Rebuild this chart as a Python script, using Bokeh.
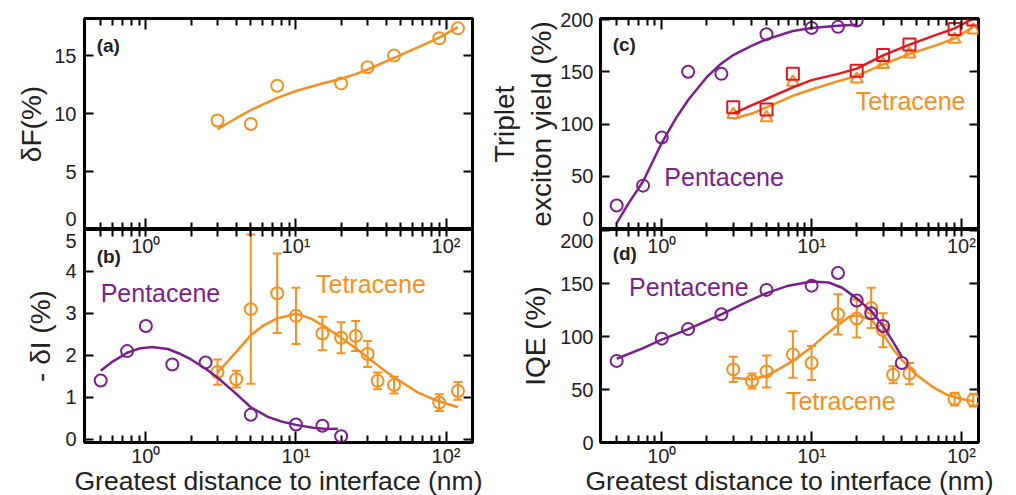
from bokeh.plotting import figure
from bokeh.models import (Range1d, LogAxis, LinearAxis, FixedTicker, CustomJSTickFormatter,
                          ColumnDataSource, Whisker, TeeHead, Label)
from bokeh.layouts import row, column
from bokeh.embed import file_html
from bokeh.resources import INLINE

PURPLE = "#7d1e8e"
ORANGE = "#f39020"
RED = "#e5161e"
FONT = "Liberation Sans"
INK = "#222222"

# ---------------- data ----------------
# (a) tetracene delta_F
a_x = [3, 5, 7.5, 20, 30, 45, 90, 120]
a_y = [9.4, 9.1, 12.4, 12.6, 14.0, 15.0, 16.5, 17.35]
a_fit_x = [3, 4, 5, 7.5, 10, 15, 20, 25, 30, 45, 70, 90, 120]
a_fit_y = [8.65, 9.6, 10.3, 11.35, 11.95, 12.6, 13.0, 13.4, 13.8, 14.8, 15.9, 16.55, 17.45]

# (b) -delta_I
b_pen_x = [0.5, 0.75, 1, 1.5, 2.5, 5, 10, 15, 20]
b_pen_y = [1.40, 2.10, 2.70, 1.78, 1.83, 0.58, 0.35, 0.32, 0.07]
b_pen_fit_x = [0.5, 0.6, 0.75, 0.9, 1.1, 1.4, 1.7, 2.0, 2.5, 3.0, 4.0, 5.0, 6.5, 8.0, 10, 13, 16, 19]
b_pen_fit_y = [1.63, 1.85, 2.06, 2.16, 2.20, 2.15, 2.03, 1.90, 1.68, 1.47, 1.08, 0.76, 0.53, 0.42, 0.34, 0.27, 0.24, 0.25]
b_tet_x = [3, 4, 5, 7.5, 10, 15, 20, 25, 30, 35, 45, 90, 120]
b_tet_y = [1.60, 1.43, 3.10, 3.48, 2.94, 2.52, 2.42, 2.46, 2.03, 1.39, 1.29, 0.87, 1.15]
b_tet_err = [0.30, 0.20, 1.78, 0.95, 0.67, 0.40, 0.37, 0.36, 0.31, 0.20, 0.20, 0.20, 0.21]
b_tet_fit_x = [3, 3.5, 4, 5, 6, 7.5, 10, 12.5, 15, 20, 25, 30, 40, 50, 65, 80, 100, 120]
b_tet_fit_y = [1.59, 1.85, 2.08, 2.48, 2.70, 2.88, 2.99, 2.88, 2.72, 2.42, 2.17, 1.95, 1.60, 1.37, 1.11, 0.97, 0.85, 0.76]

# (c) triplet exciton yield
c_pen_x = [0.5, 0.75, 1, 1.5, 2.5, 5, 10, 15, 20]
c_pen_y = [22, 41, 87, 150, 148, 186, 192, 193, 199]
c_pen_fit_x = [0.5, 0.6, 0.75, 1.0, 1.25, 1.5, 2.0, 2.5, 3.0, 4.0, 5.0, 7.5, 10, 15, 20]
c_pen_fit_y = [5, 24, 45, 82, 106, 123, 145, 158, 166, 175, 181, 189, 192, 194, 195]
c_tet_x = [3, 5, 7.5, 20, 30, 45, 90, 120]
c_tet_sq_y = [116, 114, 148, 151, 166, 176, 191, 200]
c_tet_tri_y = [109, 106, 140, 143, 157, 167, 181, 190]
c_sq_fit_x = [3, 4, 5, 7.5, 10, 15, 20, 30, 45, 70, 90, 120]
c_sq_fit_y = [110, 118, 124, 135, 142, 148, 153, 165.7, 176, 186, 191.5, 201]
c_tri_fit_x = [3, 4, 5, 7.5, 10, 15, 20, 30, 45, 70, 90, 120]
c_tri_fit_y = [105, 110, 116, 127, 133, 141, 146, 157, 167, 176, 182, 193]

# (d) IQE
d_pen_x = [0.5, 1, 1.5, 2.5, 5, 10, 15, 20, 25, 30, 40]
d_pen_y = [77, 98, 107, 121, 144, 148, 160, 134, 122, 110, 75]
d_pen_fit_x = [0.5, 0.75, 1, 1.5, 2.5, 3.5, 5, 7, 10, 13, 16, 20, 25, 30, 35, 40]
d_pen_fit_y = [79, 89, 97, 107, 121, 131, 141, 148, 152, 151, 146, 136, 124, 110, 95, 81]
d_tet_x = [3, 4, 5, 7.5, 10, 15, 20, 25, 30, 35, 45, 90, 120]
d_tet_y = [69, 58, 67, 83, 75, 121, 117, 127, 106, 64, 65, 41, 40]
d_tet_err = [12, 7, 15, 22, 16, 19, 18, 19, 16, 8, 10, 6, 6]
d_tet_fit_x = [3, 4, 5, 6, 7.5, 10, 12.5, 15, 18, 20, 25, 30, 35, 40, 50, 65, 80, 100, 120]
d_tet_fit_y = [61, 59.5, 63, 69, 77, 90, 102, 111, 119, 120, 116, 102, 88, 78, 64, 52, 45, 41, 39]

# ticks
x_major = [1, 10, 100]
x_minor = [0.5, 0.6, 0.7, 0.8, 0.9, 2, 3, 4, 5, 6, 7, 8, 9, 20, 30, 40, 50, 60, 70, 80, 90]
a_yticks = [0, 5, 10, 15]
b_yticks = [0, 1, 2, 3, 4, 5]
cd_yticks = [0, 50, 100, 150, 200]

XLABEL = "Greatest distance to interface (nm)"

xfmt_code = """
const e = Math.round(Math.log10(tick));
const sup = {0: "\u2070", 1: "\u00b9", 2: "\u00b2"};
return "10" + (sup[e] !== undefined ? sup[e] : "");
"""


def yfmt(step):
    # labels snap to the tick step (the edge label sits a few pixels off the shared border)
    return CustomJSTickFormatter(args=dict(step=step), code="""
return String(Math.round(tick / step) * step);
""")


def no_ticks(ax):
    ax.axis_line_color = None
    ax.major_tick_in = 0
    ax.major_tick_out = 0
    ax.minor_tick_in = 0
    ax.minor_tick_out = 0
    ax.major_tick_line_color = None
    ax.minor_tick_line_color = None


def tick_axis(cls, loc, ticks, minor, major_in, minor_in):
    ax = cls(fixed_location=loc, ticker=FixedTicker(ticks=ticks, minor_ticks=minor),
             axis_line_color=None, major_tick_in=major_in, major_tick_out=0,
             minor_tick_in=minor_in, minor_tick_out=0,
             major_tick_line_width=2, minor_tick_line_width=2,
             major_tick_line_color="black", minor_tick_line_color="black",
             major_label_text_color=None, major_label_standoff=0)
    return ax


def make_fig(xr, yr, yticks, step, ylabel, frame_w, frame_h, bottom, left_b, right_b, top_b,
             edge, edge_shift_px, ylab_standoff, lab_standoff):
    p = figure(frame_width=frame_w, frame_height=frame_h, x_axis_type="log",
               x_axis_location=None, y_axis_location=None,
               x_range=Range1d(*xr), y_range=Range1d(*yr), tools="",
               toolbar_location=None, output_backend="svg",
               min_border_left=left_b, min_border_right=right_b,
               min_border_top=top_b, min_border_bottom=0,
               background_fill_color=None, border_fill_color="white")
    p.xgrid.visible = False
    p.ygrid.visible = False
    p.outline_line_color = "black"
    p.outline_line_width = 3

    # ---- label axes (no ticks)
    d = edge_shift_px * (yr[1] - yr[0]) / frame_h
    label_ticks = [t + d if t == edge else t for t in yticks]
    yl = LinearAxis(ticker=FixedTicker(ticks=label_ticks, minor_ticks=[]), formatter=yfmt(step))
    no_ticks(yl)
    yl.major_label_text_font = FONT
    yl.major_label_text_font_size = "20px"
    yl.major_label_text_color = INK
    yl.major_label_standoff = lab_standoff
    yl.axis_label = ylabel
    yl.axis_label_text_font = FONT
    yl.axis_label_text_font_size = "28px"
    yl.axis_label_text_font_style = "normal"
    yl.axis_label_text_color = INK
    yl.axis_label_standoff = ylab_standoff
    p.add_layout(yl, "left")

    if bottom:
        xb = LogAxis(ticker=FixedTicker(ticks=x_major, minor_ticks=[]),
                     formatter=CustomJSTickFormatter(code=xfmt_code))
        no_ticks(xb)
        xb.major_label_text_font = FONT
        xb.major_label_text_font_size = "20px"
        xb.major_label_text_color = INK
        xb.major_label_standoff = 2
        xb.axis_label = XLABEL
        xb.axis_label_text_font = FONT
        xb.axis_label_text_font_size = "26.5px"
        xb.axis_label_text_font_style = "normal"
        xb.axis_label_text_color = INK
        xb.axis_label_standoff = -4
        p.add_layout(xb, "below")

        # decade labels of the panel above, written just inside this panel's top edge
        xa = LogAxis(ticker=FixedTicker(ticks=x_major, minor_ticks=[]),
                     formatter=CustomJSTickFormatter(code=xfmt_code))
        no_ticks(xa)
        xa.major_label_text_font = FONT
        xa.major_label_text_font_size = "20px"
        xa.major_label_text_color = INK
        xa.major_label_standoff = -27
        p.add_layout(xa, "above")

    # ---- tick axes fixed on the four frame edges (ticks point inward)
    p.add_layout(tick_axis(LinearAxis, xr[0], yticks, [], 9, 0), "left")
    p.add_layout(tick_axis(LinearAxis, xr[1], yticks, [], 9, 0), "right")
    p.add_layout(tick_axis(LogAxis, yr[1], x_major, x_minor, 7 if bottom else 11, 7), "above")
    p.add_layout(tick_axis(LogAxis, yr[0], x_major, x_minor, 11, 7), "below")
    return p


def panel_tag(p, x, y, txt):
    p.add_layout(Label(x=x, y=y, text=txt, text_font=FONT, text_font_size="19px",
                       text_font_style="bold", text_color=INK, text_baseline="middle"))


def name_label(p, x, y, txt, color):
    p.add_layout(Label(x=x, y=y, text=txt, text_font=FONT, text_font_size="25px",
                       text_color=color, text_baseline="middle"))


def err_bars(p, xs, ys, errs, color):
    src = ColumnDataSource(dict(x=xs, lo=[v - e for v, e in zip(ys, errs)],
                                hi=[v + e for v, e in zip(ys, errs)]))
    w = Whisker(source=src, base="x", lower="lo", upper="hi", line_color=color,
                line_width=2,
                upper_head=TeeHead(size=9, line_color=color, line_width=2),
                lower_head=TeeHead(size=9, line_color=color, line_width=2))
    p.add_layout(w)


XL = (0.39, 150)
XR = (0.39, 130)

# (a)
pa = make_fig(XL, (0, 18.2), a_yticks, 5, "\u03b4F(%)", 388, 211, False, 84, 13, 18, 0, 11, 4, 8)
pa.line(a_fit_x, a_fit_y, line_color=ORANGE, line_width=2.5)
pa.scatter(a_x, a_y, marker="circle", size=12, fill_color=None, line_color=ORANGE, line_width=2)
panel_tag(pa, 0.47, 15.9, "(a)")

# (b)
pb = make_fig(XL, (-0.08, 5.0), b_yticks, 1, "- \u03b4I (%)", 388, 213, True, 84, 13, 0, 5, -11, 6, 8)
pb.line(b_tet_fit_x, b_tet_fit_y, line_color=ORANGE, line_width=2.5)
err_bars(pb, b_tet_x, b_tet_y, b_tet_err, ORANGE)
pb.scatter(b_tet_x, b_tet_y, marker="circle", size=12, fill_color=None, line_color=ORANGE, line_width=2)
pb.line(b_pen_fit_x, b_pen_fit_y, line_color=PURPLE, line_width=2.5)
pb.scatter(b_pen_x, b_pen_y, marker="circle", size=12, fill_color=None, line_color=PURPLE, line_width=2)
panel_tag(pb, 0.47, 4.35, "(b)")
name_label(pb, 0.5, 3.49, "Pentacene", PURPLE)
name_label(pb, 13.6, 3.71, "Tetracene", ORANGE)

# (c)
pc = make_fig(XR, (-1, 201), cd_yticks, 50, "Triplet\nexciton yield (%)", 378, 211, False, 115, 30, 18, 0, 9, 0, 7)
pc.line(c_pen_fit_x, c_pen_fit_y, line_color=PURPLE, line_width=2.5)
pc.scatter(c_pen_x, c_pen_y, marker="circle", size=12, fill_color=None, line_color=PURPLE, line_width=2)
pc.line(c_tri_fit_x, c_tri_fit_y, line_color=ORANGE, line_width=2.5)
pc.scatter(c_tet_x, c_tet_tri_y, marker="triangle", size=12, fill_color=None, line_color=ORANGE, line_width=2)
pc.line(c_sq_fit_x, c_sq_fit_y, line_color=RED, line_width=2.5)
pc.scatter(c_tet_x, c_tet_sq_y, marker="square", size=12, fill_color=None, line_color=RED, line_width=2)
panel_tag(pc, 0.47, 176, "(c)")
name_label(pc, 1.04, 49, "Pentacene", PURPLE)
name_label(pc, 19.7, 121.7, "Tetracene", ORANGE)

# (d)
pd = make_fig(XR, (0, 201), cd_yticks, 50, "IQE (%)", 378, 213, True, 115, 30, 0, 200, -10, 6, 7)
pd.line(d_tet_fit_x, d_tet_fit_y, line_color=ORANGE, line_width=2.5)
err_bars(pd, d_tet_x, d_tet_y, d_tet_err, ORANGE)
pd.scatter(d_tet_x, d_tet_y, marker="circle", size=12, fill_color=None, line_color=ORANGE, line_width=2)
pd.line(d_pen_fit_x, d_pen_fit_y, line_color=PURPLE, line_width=2.5)
pd.scatter(d_pen_x, d_pen_y, marker="circle", size=12, fill_color=None, line_color=PURPLE, line_width=2)
panel_tag(pd, 0.47, 178, "(d)")
name_label(pd, 0.605, 147, "Pentacene", PURPLE)
name_label(pd, 6.74, 39.4, "Tetracene", ORANGE)

layout = row(column(pa, pb), column(pc, pd))
open("out.html", "w").write(file_html(layout, INLINE))
